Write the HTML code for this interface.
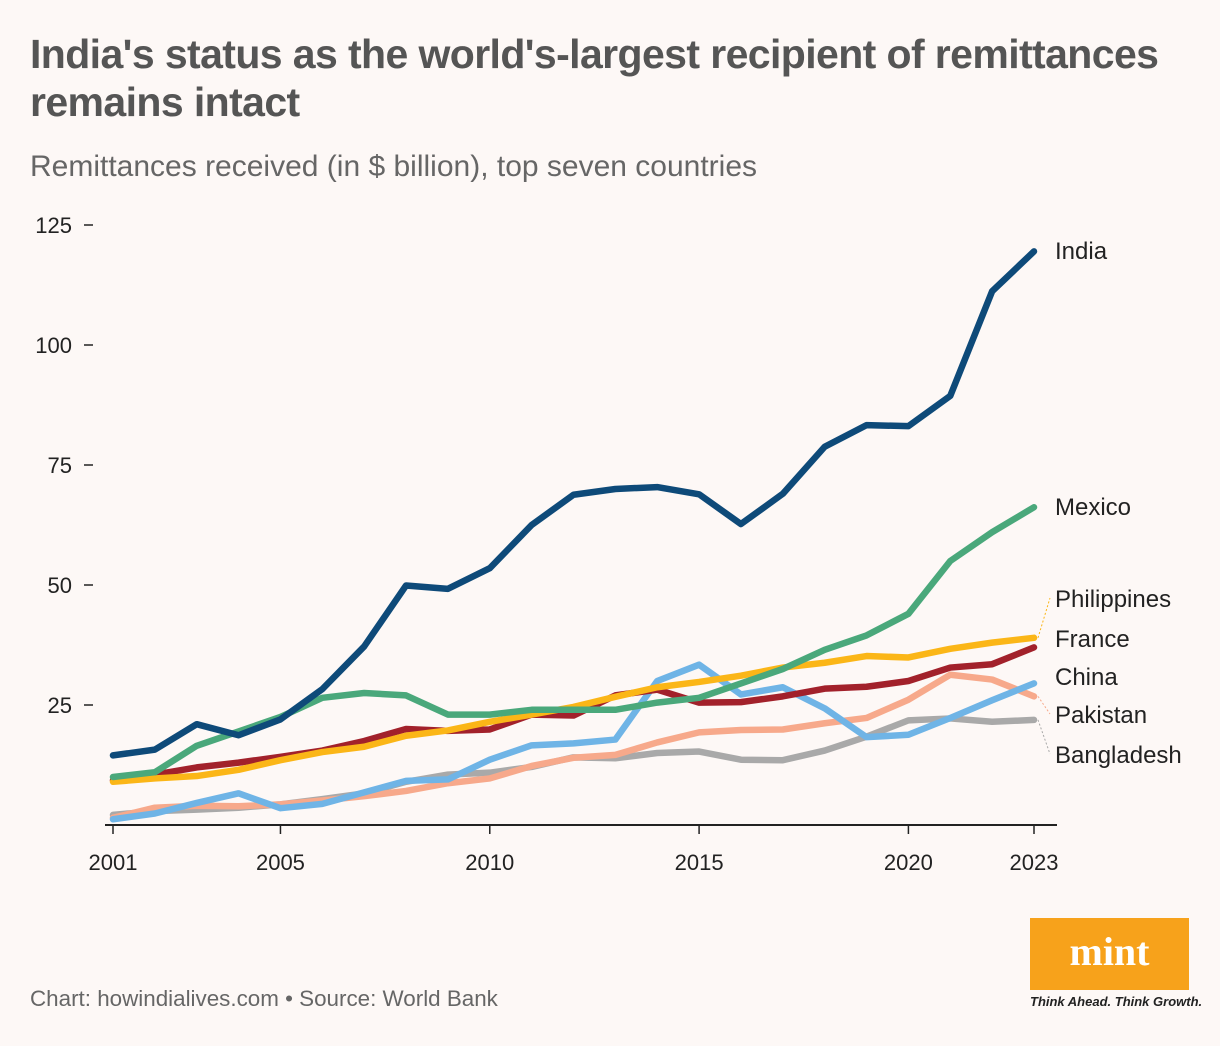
<!DOCTYPE html>
<html><head><meta charset="utf-8"><style>
body{margin:0;background:#fdf8f6;font-family:"Liberation Sans",sans-serif;}
#wrap{position:relative;width:1220px;height:1046px;overflow:hidden;background:#fdf8f6;}
h1{position:absolute;left:30px;top:30px;margin:0;font-size:41px;line-height:48px;font-weight:bold;color:#555;letter-spacing:-0.6px;width:1190px;white-space:nowrap}
.sub{position:absolute;left:30px;top:150px;font-size:30px;color:#666;}
.foot{position:absolute;left:30px;top:986px;font-size:22.4px;color:#666;}
.logo{position:absolute;left:1030px;top:918px;width:159px;height:72px;background:#f7a21b;color:#fff;font:bold 40px "Liberation Serif",serif;text-align:center;line-height:68px}
.tag{position:absolute;left:1030px;top:994px;font-size:13px;font-style:italic;font-weight:bold;color:#222;}
</style></head><body>
<div id="wrap">
<h1>India's status as the world's-largest recipient of remittances<br>remains intact</h1>
<div class="sub">Remittances received (in $ billion), top seven countries</div>
<svg id="chart" width="1220" height="1046" style="position:absolute;left:0;top:0"></svg>
<div class="foot">Chart: howindialives.com • Source: World Bank</div>
<div class="logo">mint</div>
<div class="tag">Think Ahead. Think Growth.</div>
</div>
<script>
const years=[2001,2002,2003,2004,2005,2006,2007,2008,2009,2010,2011,2012,2013,2014,2015,2016,2017,2018,2019,2020,2021,2022,2023];
const india=[14.5,15.7,21,18.7,22,28.3,37.2,49.9,49.2,53.5,62.5,68.8,70,70.4,68.9,62.7,69,78.8,83.3,83.1,89.4,111.2,119.5];
const mexico=[10,11,16.5,19.5,22.5,26.5,27.5,27,23,23,24,24,24,25.5,26.5,29.5,32.5,36.5,39.5,44,55,61,66.2];
const philippines=[9,9.7,10.2,11.5,13.5,15.2,16.3,18.6,19.7,21.5,23,24.6,26.7,28.7,29.8,31.1,32.8,33.8,35.2,34.9,36.7,38,39];
const france=[9.3,10.5,12,13,14.2,15.5,17.5,20,19.6,19.9,23,22.8,27,28.2,25.5,25.6,26.8,28.4,28.8,30,32.8,33.5,37];
const china=[1.2,2.4,4.6,6.6,3.5,4.4,6.8,9.2,9.5,13.6,16.6,17,17.8,30,33.4,27.2,28.7,24.3,18.3,18.8,22.3,26,29.5];
const pakistan=[1.5,3.6,4,3.9,4.3,5.1,6,7.1,8.7,9.7,12.3,14,14.6,17.2,19.3,19.8,19.9,21.2,22.3,26.1,31.3,30.3,26.8];
const bangladesh=[2.1,2.9,3.2,3.6,4.3,5.4,6.6,9,10.5,10.9,12.1,14.1,13.9,15,15.3,13.6,13.5,15.5,18.4,21.8,22.2,21.5,21.9];
const yTicks=[25,50,75,100,125];
const xTicks=[2001,2005,2010,2015,2020,2023];
const seriesNames=["Bangladesh","Pakistan","China","France","Philippines","Mexico","India"];
const seriesData=[bangladesh,pakistan,china,france,philippines,mexico,india];
const colors=["#a9a9a9","#f7a98b","#6fb4e6","#a2212b","#fbb617","#4aa87b","#0e4a79"];
const labelY=[754,714,676,638,598,506,250];
const NS="http://www.w3.org/2000/svg";
const svg=document.getElementById('chart');
const x=v=>113+(v-2001)*(1034-113)/22;
const y=v=>825-v*4.8;
function mk(t,a){const e=document.createElementNS(NS,t);for(const k in a)e.setAttribute(k,a[k]);svg.appendChild(e);return e;}
let ax=mk('line',{x1:105,x2:1057,y1:825,y2:825,stroke:'#222','stroke-width':2});


yTicks.forEach(t=>{
 let l=mk('line',{x1:84,x2:93,y1:y(t),y2:y(t),stroke:'#222','stroke-width':1.5});
 
 
 let tx=mk('text',{x:72,y:y(t)+8,'text-anchor':'end','font-size':22,fill:'#222','font-family':'Liberation Sans, sans-serif'});
 tx.textContent=t;
 
 
});
xTicks.forEach(t=>{
 let l=mk('line',{x1:x(t),x2:x(t),y1:825,y2:834,stroke:'#222','stroke-width':1.5});
 
 
 let tx=mk('text',{x:x(t),y:870,'text-anchor':'middle','font-size':22,fill:'#222','font-family':'Liberation Sans, sans-serif'});
 tx.textContent=t;
 
 
});
seriesData.forEach((d,i)=>{
 const pts=d.map((v,j)=>x(years[j])+','+y(v)).join(' ');
 let p=mk('polyline',{points:pts,fill:'none',stroke:colors[i],'stroke-width':6.5,'stroke-linejoin':'round','stroke-linecap':'round'});
 
 
 const ex=x(years[years.length-1]),ey=y(d[d.length-1]);
 if(Math.abs(ey-labelY[i])>12){
  let c=mk('line',{x1:ex+4,y1:ey,x2:1050,y2:labelY[i],stroke:colors[i],'stroke-width':1,'stroke-dasharray':'2,2'});
  
  
 }
 let tx=mk('text',{x:1055,y:labelY[i]+9,'font-size':24,fill:'#222','font-family':'Liberation Sans, sans-serif'});
 tx.textContent=seriesNames[i];
 
 
});
</script>
</body></html>
